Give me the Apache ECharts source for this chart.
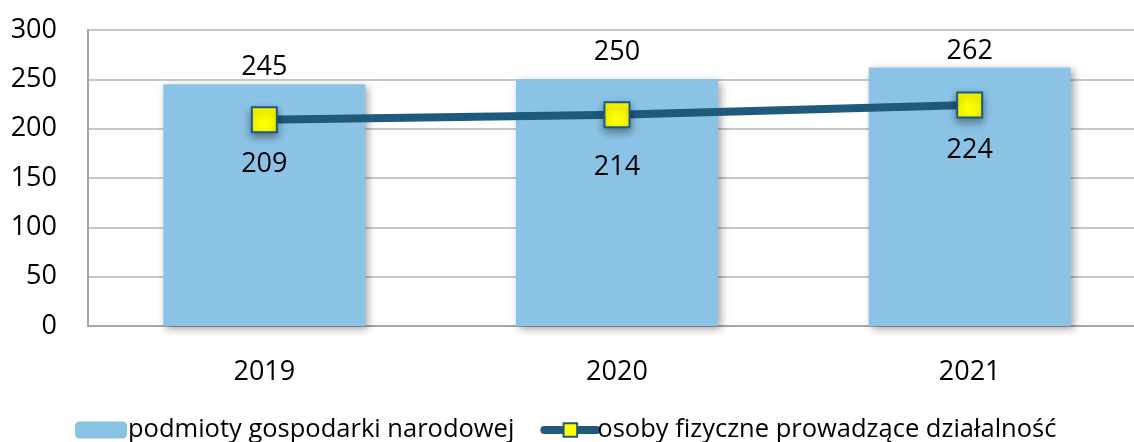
<!DOCTYPE html>
<html>
<head>
<meta charset="utf-8">
<script src="https://cdn.jsdelivr.net/npm/echarts@6/dist/echarts.min.js"></script>
<style>
  html, body { margin: 0; padding: 0; background: #fff; }
  #chartmain { width: 1134px; height: 442px; }
</style>
</head>
<body>
<div id="chartmain"></div>
<script>
// dane z wykresu
var years = ['2019', '2020', '2021'];
var podmioty = [245, 250, 262];
var osobyFizyczne = [209, 214, 224];
var yTicks = [0, 300, 50]; // min, max, interval

var font = '"Open Sans", "Noto Sans", sans-serif';
var numSize = 27;

// Excel przesunął etykiety dla 2020 – odwzorowanie tego
var barData = podmioty.map(function (v, i) {
  return i === 1 ? { value: v, label: { offset: [0, -11] } } : v;
});
var lineData = osobyFizyczne.map(function (v, i) {
  return i === 1 ? { value: v, label: { offset: [0, 7] } } : v;
});

var chart = echarts.init(document.getElementById('chartmain'));

chart.setOption({
  animation: false,
  textStyle: { fontFamily: font },
  grid: { left: 88, width: 1058, top: 30, bottom: 116, outerBoundsMode: 'none' },
  legend: {
    left: 70,
    top: 412,
    itemWidth: 52,
    itemHeight: 17,
    itemGap: 26,
    textStyle: { fontSize: 25.5, color: '#000', fontFamily: font, padding: [0, 0, 0, -4] },
    data: [
      { name: 'podmioty gospodarki narodowej' },
      { name: 'osoby fizyczne prowadzące działalność', lineStyle: { width: 8, cap: 'round' } }
    ]
  },
  xAxis: {
    type: 'category',
    data: years,
    axisLine: { lineStyle: { color: '#a6a6a6', width: 2 } },
    axisTick: { show: false },
    axisLabel: { fontSize: numSize, color: '#000', margin: 33 }
  },
  yAxis: {
    type: 'value',
    min: yTicks[0],
    max: yTicks[1],
    interval: yTicks[2],
    axisLine: { show: true, lineStyle: { color: '#a6a6a6', width: 2 } },
    axisTick: { show: false },
    axisLabel: { fontSize: numSize, color: '#000', margin: 31 },
    splitLine: { lineStyle: { color: '#c8c8c8', width: 2 } }
  },
  series: [
    {
      name: 'podmioty gospodarki narodowej',
      type: 'bar',
      data: barData,
      barWidth: 202,
      itemStyle: {
        color: '#8bc3e6',
        shadowColor: 'rgba(0,0,0,0.35)',
        shadowBlur: 8,
        shadowOffsetX: 3,
        shadowOffsetY: 3
      },
      label: { show: true, position: 'top', distance: 3, fontSize: numSize, color: '#000' }
    },
    {
      name: 'osoby fizyczne prowadzące działalność',
      type: 'line',
      data: lineData,
      symbol: 'rect',
      symbolSize: 25,
      lineStyle: { color: '#1f5a7d', width: 8 },
      itemStyle: {
        color: '#ffff00',
        borderColor: '#1f5a7d',
        borderWidth: 2,
        shadowColor: 'rgba(0,0,0,0.4)',
        shadowBlur: 8,
        shadowOffsetY: 4
      },
      label: { show: true, position: 'bottom', distance: 18, fontSize: numSize, color: '#000' },
      z: 3
    }
  ]
});
</script>
</body>
</html>
